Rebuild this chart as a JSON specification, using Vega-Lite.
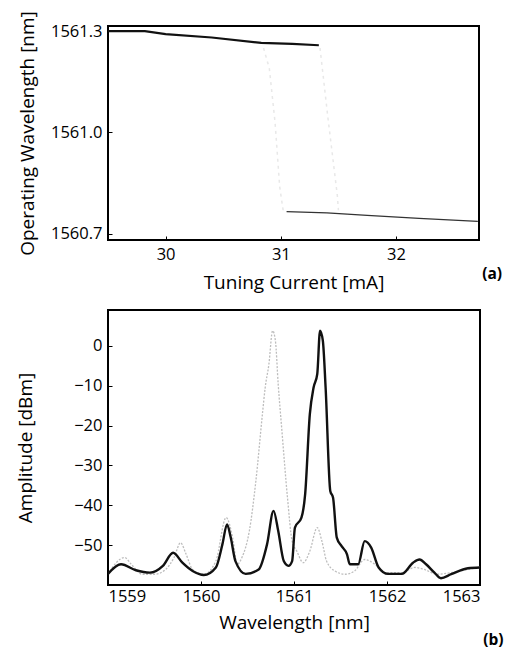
{
  "$schema": "https://vega.github.io/schema/vega-lite/v6.json",
  "padding": {"left": 15, "top": 9, "right": 0, "bottom": 0},
  "background": "white",
  "spacing": 15,
  "config": {
    "font": "Open Sans",
    "view": {"stroke": "black", "strokeWidth": 2},
    "axis": {
      "grid": false,
      "domain": false,
      "ticks": true,
      "tickSize": -4,
      "tickColor": "black",
      "labelColor": "black",
      "titleColor": "black",
      "labelFont": "Open Sans",
      "titleFont": "Open Sans",
      "labelFontSize": 16.5,
      "titleFontSize": 19,
      "titleFontWeight": "normal"
    },
    "title": {"font": "Open Sans", "fontSize": 15.5, "fontWeight": "bold", "color": "black"}
  },
  "vconcat": [
    {
      "width": 371,
      "height": 214,
      "title": {"text": "(a)", "orient": "bottom", "anchor": "end", "dx": 23, "dy": -30},
      "data": {"values": [
        {"s": "upper", "i": 29.5, "w": 1561.300},
        {"s": "upper", "i": 29.82, "w": 1561.300},
        {"s": "upper", "i": 30.0, "w": 1561.291},
        {"s": "upper", "i": 30.4, "w": 1561.281},
        {"s": "upper", "i": 30.83, "w": 1561.265},
        {"s": "upper", "i": 31.1, "w": 1561.262},
        {"s": "upper", "i": 31.33, "w": 1561.258},
        {"s": "lower", "i": 31.05, "w": 1560.766},
        {"s": "lower", "i": 31.4, "w": 1560.762},
        {"s": "lower", "i": 31.75, "w": 1560.755},
        {"s": "lower", "i": 32.2, "w": 1560.746},
        {"s": "lower", "i": 32.71, "w": 1560.737},
        {"s": "jumpA", "i": 30.85, "w": 1561.25},
        {"s": "jumpA", "i": 30.9, "w": 1561.19},
        {"s": "jumpA", "i": 30.95, "w": 1561.03},
        {"s": "jumpA", "i": 30.99, "w": 1560.84},
        {"s": "jumpA", "i": 31.02, "w": 1560.77},
        {"s": "jumpB", "i": 31.34, "w": 1561.25},
        {"s": "jumpB", "i": 31.36, "w": 1561.19},
        {"s": "jumpB", "i": 31.41, "w": 1561.04},
        {"s": "jumpB", "i": 31.49, "w": 1560.815},
        {"s": "jumpB", "i": 31.5, "w": 1560.77}
      ]},
      "encoding": {
        "x": {"field": "i", "type": "quantitative", "title": "Tuning Current [mA]",
              "scale": {"domain": [29.5, 32.72], "nice": false, "zero": false},
              "axis": {"values": [30, 31, 32], "labelPadding": 10, "titlePadding": 11}},
        "y": {"field": "w", "type": "quantitative", "title": "Operating Wavelength [nm]",
              "scale": {"domain": [1560.682, 1561.315], "nice": false, "zero": false},
              "axis": {"values": [1560.7, 1561.0, 1561.3], "format": ".1f", "labelPadding": 10, "titlePadding": 13}},
        "detail": {"field": "s"}
      },
      "layer": [
        {"transform": [{"filter": "datum.s == 'jumpA' || datum.s == 'jumpB'"}],
         "mark": {"type": "line", "clip": true, "color": "#e8e8e8", "strokeWidth": 1.5, "strokeDash": [3, 4]}},
        {"transform": [{"filter": "datum.s == 'upper'"}],
         "mark": {"type": "line", "clip": true, "color": "#111111", "strokeWidth": 2.2}},
        {"transform": [{"filter": "datum.s == 'lower'"}],
         "mark": {"type": "line", "clip": true, "color": "#333333", "strokeWidth": 1.2}}
      ]
    },
    {
      "width": 372,
      "height": 275,
      "title": {"text": "(b)", "orient": "bottom", "anchor": "end", "dx": 23, "dy": -4},
      "data": {"values": [
        {"s": "b", "x": 1559.0, "y": -57.2},
        {"s": "b", "x": 1559.14, "y": -54.8},
        {"s": "b", "x": 1559.3, "y": -56.3},
        {"s": "b", "x": 1559.45, "y": -56.9},
        {"s": "b", "x": 1559.59, "y": -55.2},
        {"s": "b", "x": 1559.7, "y": -51.9},
        {"s": "b", "x": 1559.8, "y": -54.4},
        {"s": "b", "x": 1559.91, "y": -56.5},
        {"s": "b", "x": 1560.03, "y": -57.5},
        {"s": "b", "x": 1560.16, "y": -55.6},
        {"s": "b", "x": 1560.23, "y": -49.8},
        {"s": "b", "x": 1560.28, "y": -44.8},
        {"s": "b", "x": 1560.32, "y": -48.1},
        {"s": "b", "x": 1560.37, "y": -54.0},
        {"s": "b", "x": 1560.48, "y": -57.2},
        {"s": "b", "x": 1560.62, "y": -56.1},
        {"s": "b", "x": 1560.71, "y": -49.8},
        {"s": "b", "x": 1560.78, "y": -41.4},
        {"s": "b", "x": 1560.83, "y": -46.4},
        {"s": "b", "x": 1560.89, "y": -54.0},
        {"s": "b", "x": 1560.94, "y": -55.2},
        {"s": "b", "x": 1560.98, "y": -54.0},
        {"s": "b", "x": 1561.01, "y": -45.6},
        {"s": "b", "x": 1561.08, "y": -43.1},
        {"s": "b", "x": 1561.12, "y": -37.2},
        {"s": "b", "x": 1561.17, "y": -17.2},
        {"s": "b", "x": 1561.21, "y": -10.5},
        {"s": "b", "x": 1561.25, "y": -7.1},
        {"s": "b", "x": 1561.28, "y": 3.8},
        {"s": "b", "x": 1561.31, "y": 1.3},
        {"s": "b", "x": 1561.34, "y": -10.5},
        {"s": "b", "x": 1561.39, "y": -36.4},
        {"s": "b", "x": 1561.42, "y": -38.1},
        {"s": "b", "x": 1561.46, "y": -48.1},
        {"s": "b", "x": 1561.51, "y": -50.2},
        {"s": "b", "x": 1561.57, "y": -52.3},
        {"s": "b", "x": 1561.6, "y": -54.8},
        {"s": "b", "x": 1561.69, "y": -54.8},
        {"s": "b", "x": 1561.76, "y": -49.0},
        {"s": "b", "x": 1561.83, "y": -50.6},
        {"s": "b", "x": 1561.91, "y": -55.6},
        {"s": "b", "x": 1562.01, "y": -57.2},
        {"s": "b", "x": 1562.16, "y": -57.2},
        {"s": "b", "x": 1562.28, "y": -54.4},
        {"s": "b", "x": 1562.35, "y": -53.6},
        {"s": "b", "x": 1562.42, "y": -54.8},
        {"s": "b", "x": 1562.51, "y": -56.9},
        {"s": "b", "x": 1562.58, "y": -58.3},
        {"s": "b", "x": 1562.69, "y": -57.3},
        {"s": "b", "x": 1562.87, "y": -55.8},
        {"s": "b", "x": 1563.0, "y": -55.6},
        {"s": "g", "x": 1559.0, "y": -57.2},
        {"s": "g", "x": 1559.18, "y": -53.1},
        {"s": "g", "x": 1559.25, "y": -54.8},
        {"s": "g", "x": 1559.37, "y": -57.3},
        {"s": "g", "x": 1559.5, "y": -57.3},
        {"s": "g", "x": 1559.62, "y": -56.1},
        {"s": "g", "x": 1559.71, "y": -53.1},
        {"s": "g", "x": 1559.78, "y": -49.4},
        {"s": "g", "x": 1559.84, "y": -52.3},
        {"s": "g", "x": 1559.91, "y": -56.1},
        {"s": "g", "x": 1560.03, "y": -57.3},
        {"s": "g", "x": 1560.16, "y": -54.0},
        {"s": "g", "x": 1560.27, "y": -43.1},
        {"s": "g", "x": 1560.34, "y": -48.1},
        {"s": "g", "x": 1560.39, "y": -54.8},
        {"s": "g", "x": 1560.44, "y": -53.1},
        {"s": "g", "x": 1560.52, "y": -46.4},
        {"s": "g", "x": 1560.59, "y": -33.9},
        {"s": "g", "x": 1560.66, "y": -17.2},
        {"s": "g", "x": 1560.69, "y": -10.5},
        {"s": "g", "x": 1560.73, "y": -4.6},
        {"s": "g", "x": 1560.77, "y": 3.8},
        {"s": "g", "x": 1560.8, "y": 1.3},
        {"s": "g", "x": 1560.83, "y": -9.6},
        {"s": "g", "x": 1560.87, "y": -21.3},
        {"s": "g", "x": 1560.93, "y": -38.1},
        {"s": "g", "x": 1560.98, "y": -49.0},
        {"s": "g", "x": 1561.03, "y": -51.5},
        {"s": "g", "x": 1561.1, "y": -54.4},
        {"s": "g", "x": 1561.17, "y": -51.5},
        {"s": "g", "x": 1561.25, "y": -45.6},
        {"s": "g", "x": 1561.3, "y": -49.0},
        {"s": "g", "x": 1561.35, "y": -54.0},
        {"s": "g", "x": 1561.44, "y": -56.5},
        {"s": "g", "x": 1561.55, "y": -57.3},
        {"s": "g", "x": 1561.65, "y": -56.5},
        {"s": "g", "x": 1561.76, "y": -53.6},
        {"s": "g", "x": 1561.87, "y": -54.8},
        {"s": "g", "x": 1561.98, "y": -56.9},
        {"s": "g", "x": 1562.16, "y": -56.9},
        {"s": "g", "x": 1562.3, "y": -55.6},
        {"s": "g", "x": 1562.4, "y": -56.1},
        {"s": "g", "x": 1562.54, "y": -57.3},
        {"s": "g", "x": 1562.69, "y": -56.9},
        {"s": "g", "x": 1562.87, "y": -56.1},
        {"s": "g", "x": 1563.0, "y": -55.5}
      ]},
      "encoding": {
        "x": {"field": "x", "type": "quantitative", "title": "Wavelength [nm]",
              "scale": {"domain": [1559, 1563], "nice": false, "zero": false},
              "axis": {"values": [1559, 1560, 1561, 1562, 1563], "format": "d", "labelPadding": 7, "titlePadding": 9}},
        "y": {"field": "y", "type": "quantitative", "title": "Amplitude [dBm]",
              "scale": {"domain": [-60, 9], "nice": false, "zero": false},
              "axis": {"values": [0, -10, -20, -30, -40, -50], "labelPadding": 10, "titlePadding": 38}},
        "order": {"field": "x", "type": "quantitative"}
      },
      "layer": [
        {"transform": [{"filter": "datum.s == 'g'"}],
         "mark": {"type": "line", "clip": true, "interpolate": "monotone", "color": "#bdbdbd", "strokeWidth": 1.3, "strokeDash": [2, 1.5]}},
        {"transform": [{"filter": "datum.s == 'b'"}],
         "mark": {"type": "line", "clip": true, "interpolate": "monotone", "color": "#111111", "strokeWidth": 2.4}}
      ]
    }
  ]
}
